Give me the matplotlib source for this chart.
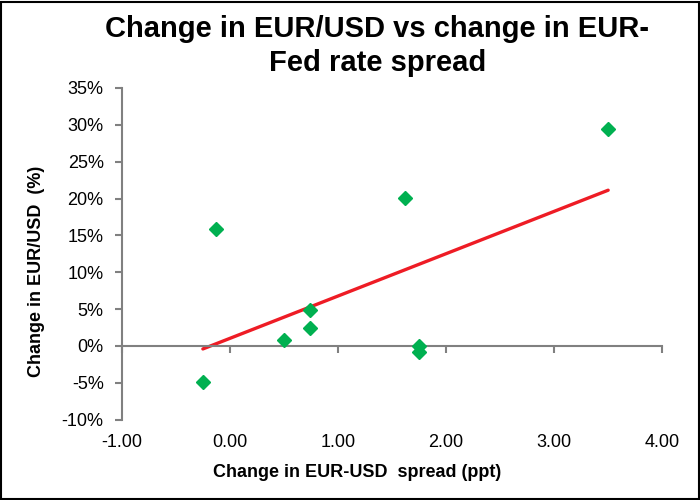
import numpy as np
import matplotlib
matplotlib.use('Agg')
import matplotlib.pyplot as plt
from matplotlib.ticker import FuncFormatter

plt.rcParams['font.family'] = ['Liberation Sans', 'DejaVu Sans']

# change in EUR-USD spread (ppt) vs change in EUR/USD (%)
spread_chg = [-0.25, 0.50, 0.74, 0.74, 1.75, 1.75, 3.50, 1.62, -0.13]
eurusd_chg = [-4.85, 0.8, 4.9, 2.5, 0.0, -0.85, 29.5, 20.1, 15.9]

x_ticks = [-1, 0, 1, 2, 3, 4]
y_ticks = [-10, -5, 0, 5, 10, 15, 20, 25, 30, 35]

green = '#00B050'
red = '#EE1C25'
grey = '#808080'

fig = plt.figure(figsize=(7, 5), dpi=100)
ax = fig.add_axes([0.174, 0.1606, 0.772, 0.6634])

ax.plot(spread_chg, eurusd_chg, ls='none', marker='D', ms=7.5,
        color=green, zorder=3)

# linear trendline
x = np.array(spread_chg)
slope, icpt = np.polyfit(x, eurusd_chg, 1)
xl = np.array([x.min(), x.max()])
ax.plot(xl, slope * xl + icpt, color=red, lw=2.4, zorder=2,
        solid_capstyle='round')

ax.set_xlim(-1, 4)
ax.set_ylim(-10, 35)
ax.set_yticks(y_ticks)
ax.yaxis.set_major_formatter(FuncFormatter(lambda v, p: '%d%%' % v))

for s in ['top', 'right']:
    ax.spines[s].set_visible(False)
ax.spines['left'].set_color(grey)
ax.spines['left'].set_linewidth(1.5)
ax.spines['bottom'].set_position(('data', 0))
ax.spines['bottom'].set_color(grey)
ax.spines['bottom'].set_linewidth(1.5)

ax.set_xticks(x_ticks)
ax.tick_params(axis='x', direction='out', length=5, width=1.5, color=grey,
               labelbottom=False)
ax.tick_params(axis='y', direction='out', length=5, width=1.5, color=grey,
               labelsize=13, pad=8)

# x labels sit at the bottom like Excel "low" labels
sec = ax.secondary_xaxis('bottom')
sec.set_xticks(x_ticks)
sec.xaxis.set_major_formatter(FuncFormatter(lambda v, p: '%.2f' % v))
sec.spines['bottom'].set_visible(False)
sec.tick_params(length=0, labelsize=13, pad=10)

fig.text(0.51, 0.055, 'Change in EUR-USD  spread (ppt)', ha='center',
         va='center', fontsize=13, fontweight='bold')
fig.text(0.052, 0.458, 'Change in EUR/USD  (%)', ha='center', va='center',
         rotation=90, fontsize=13, fontweight='bold')

fig.text(0.539, 0.908, 'Change in EUR/USD vs change in EUR-\nFed rate spread',
         ha='center', va='center', fontsize=21, fontweight='bold',
         linespacing=1.3)

# black frame around the chart
fig.patches.append(plt.Rectangle((0.002, 0.003), 0.996, 0.994,
                                 transform=fig.transFigure, fill=False,
                                 edgecolor='black', lw=1.5))

fig.savefig('out.png', dpi=100)
